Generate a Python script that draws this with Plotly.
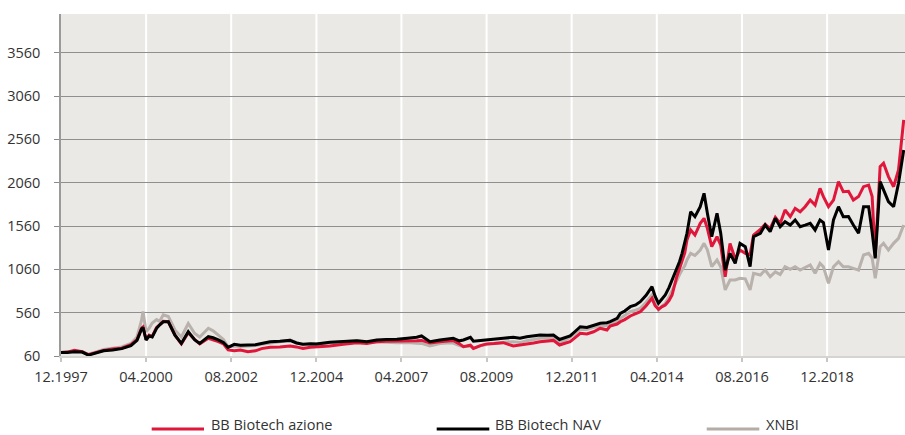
import plotly.graph_objects as go

# ---- data ----
dates = [
    "1997-12-01","1998-02-01","1998-04-15","1998-07-01","1998-09-01","1998-11-01",
    "1999-02-01","1999-05-01","1999-08-01","1999-11-01","2000-01-01","2000-02-15",
    "2000-03-01","2000-04-01","2000-05-01","2000-06-01","2000-07-15","2000-08-15",
    "2000-09-20","2000-11-10","2000-12-15","2001-01-15","2001-03-20","2001-05-28",
    "2001-08-01","2001-09-20","2001-12-15","2002-02-01","2002-03-25","2002-05-15",
    "2002-07-01","2002-09-01","2002-11-01","2003-01-15","2003-04-01","2003-06-01",
    "2003-08-25","2003-12-01","2004-03-12","2004-05-15","2004-07-20","2004-10-01",
    "2004-12-01","2005-04-15","2005-08-28","2006-01-10","2006-04-20","2006-07-28",
    "2006-11-01","2007-02-15","2007-06-01","2007-09-01","2007-10-20","2008-01-12",
    "2008-04-20","2008-07-01","2008-09-01","2008-11-01","2008-12-12","2009-02-20",
    "2009-03-22","2009-06-01","2009-08-01","2009-10-15","2010-01-15","2010-04-25",
    "2010-07-01","2010-09-07","2010-11-15","2011-01-18","2011-04-01","2011-06-01",
    "2011-08-01","2011-09-15","2011-11-15","2012-01-01","2012-02-25","2012-05-01",
    "2012-07-07","2012-09-12","2012-11-18","2012-12-20","2013-02-28","2013-04-01",
    "2013-05-15","2013-07-10","2013-09-01","2013-10-18","2013-12-15","2014-02-12",
    "2014-03-15","2014-04-18","2014-05-25","2014-06-25","2014-08-01","2014-09-01",
    "2014-10-18","2014-11-15","2014-12-10","2015-01-06","2015-01-28","2015-03-06",
    "2015-04-18","2015-06-10","2015-07-18","2015-08-21","2015-10-03","2015-11-25",
    "2016-01-01","2016-02-15","2016-04-03","2016-05-25","2016-07-12","2016-09-03",
    "2016-10-21","2016-11-25","2017-02-01","2017-03-21","2017-05-10","2017-07-01",
    "2017-08-18","2017-10-06","2017-11-27","2018-01-15","2018-03-06","2018-04-25",
    "2018-06-15","2018-08-03","2018-09-21","2018-10-25","2018-12-15","2019-02-03",
    "2019-03-25","2019-05-12","2019-07-03","2019-08-21","2019-10-12","2019-12-01",
    "2020-01-21","2020-02-25","2020-03-27","2020-05-15","2020-06-18","2020-08-06",
    "2020-09-27","2020-11-15","2021-01-06",
]

bb_azione = [
    100,105,125,110,75,95,
    125,140,150,190,250,380,
    395,250,300,285,390,420,
    460,455,380,300,200,330,
    250,200,265,250,225,200,
    130,120,130,110,120,145,
    160,165,175,165,148,160,
    165,175,195,214,205,225,
    230,230,235,237,240,210,
    225,235,240,200,167,185,
    148,180,200,205,214,175,
    185,198,210,225,230,240,
    187,200,225,270,322,315,
    340,380,360,406,429,456,
    480,522,550,571,640,726,
    640,600,630,648,700,764,
    975,1080,1168,1250,1399,1514,
    1456,1591,1649,1530,1322,1437,
    1340,975,1360,1180,1283,1245,
    1230,1456,1520,1580,1530,1660,
    1590,1745,1668,1764,1725,1783,
    1860,1802,1995,1899,1783,1860,
    2072,1956,1960,1860,1900,2014,
    2033,1900,1206,2245,2284,2130,
    2014,2207,2784,
]

bb_nav = [
    100,100,110,105,70,90,
    120,130,145,180,240,370,
    390,245,290,280,380,420,
    455,455,370,300,205,340,
    245,205,283,270,245,215,
    160,195,185,190,190,205,
    225,230,240,210,195,200,
    198,220,225,237,225,245,
    250,252,265,276,291,225,
    245,255,264,235,245,276,
    230,240,245,255,264,276,
    265,283,290,302,300,302,
    250,270,291,340,398,390,
    418,437,444,456,495,552,
    580,629,650,687,760,860,
    750,668,720,764,850,937,
    1052,1150,1245,1380,1476,1725,
    1668,1783,1937,1706,1437,1706,
    1476,1052,1245,1129,1360,1322,
    1091,1437,1476,1572,1495,1649,
    1552,1610,1572,1630,1552,1570,
    1591,1514,1630,1600,1283,1630,
    1783,1668,1670,1572,1476,1783,
    1783,1490,1187,2072,1970,1841,
    1783,2053,2437,
]

xnbi = [
    100,105,115,110,80,100,
    135,150,165,205,280,470,
    575,340,380,440,480,460,
    535,515,440,360,280,435,
    320,280,380,350,300,250,
    167,175,170,175,180,195,
    206,225,245,215,187,195,
    198,210,225,237,225,225,
    220,214,215,206,205,175,
    205,210,210,180,167,175,
    148,180,195,205,220,225,
    215,237,250,264,270,276,
    214,235,275,320,368,365,
    391,400,410,430,456,495,
    525,571,590,610,680,764,
    680,591,640,668,740,822,
    937,1000,1052,1100,1168,1245,
    1220,1283,1360,1283,1091,1168,
    1091,822,937,937,957,950,
    822,1014,995,1052,975,1030,
    1000,1091,1060,1090,1052,1080,
    1110,1014,1129,1090,899,1090,
    1148,1090,1090,1072,1052,1226,
    1245,1190,957,1322,1360,1283,
    1360,1418,1572,
]

series_names = ["BB Biotech azione", "BB Biotech NAV", "XNBI"]
series_colors = ["#e0173a", "#000000", "#b8b1ac"]

y_ticks = [60, 560, 1060, 1560, 2060, 2560, 3060, 3560]
x_tickvals = ["1997-12-01","2000-04-01","2002-08-01","2004-12-01","2007-04-01",
              "2009-08-01","2011-12-01","2014-04-01","2016-08-01","2018-12-01"]
x_ticktext = ["12.1997","04.2000","08.2002","12.2004","04.2007",
              "08.2009","12.2011","04.2014","08.2016","12.2018"]

FONT = "Open Sans"
TXT = "#333333"

fig = go.Figure()
# draw order: XNBI (bottom), azione, NAV (top)
for vals, name, col in [(xnbi, series_names[2], series_colors[2]),
                        (bb_azione, series_names[0], series_colors[0]),
                        (bb_nav, series_names[1], series_colors[1])]:
    fig.add_trace(go.Scatter(x=dates, y=vals, mode="lines", name=name,
                             line=dict(color=col, width=3), showlegend=False))

# vertical white grid lines above the horizontal ones
for tv in x_tickvals[1:]:
    fig.add_shape(type="line", xref="x", yref="paper", x0=tv, x1=tv, y0=0, y1=1,
                  line=dict(color="white", width=2), layer="between")

# manual legend
leg_items = [(151.7, 204, 209.5), (436.7, 489.3, 494.3), (706.7, 759.3, 765)]
W, H = 905, 435
l, r, t, b = 61, 0, 14, 79
pw, ph = W - l - r, H - t - b
def px(xp):
    return (xp - l) / pw
def py(yp):
    return (H - b - yp) / ph
for (x0, x1, xt), name, col in zip(leg_items, series_names, series_colors):
    lc = "#b5aca6" if name == "XNBI" else col
    fig.add_shape(type="line", xref="paper", yref="paper", x0=px(x0), x1=px(x1),
                  y0=py(429), y1=py(429), line=dict(color=lc, width=3))
    fig.add_annotation(xref="paper", yref="paper", x=px(xt), y=py(434.5), text=name,
                       showarrow=False, xanchor="left", yanchor="bottom", borderpad=0,
                       font=dict(family=FONT, size=14.5, color=TXT))

fig.update_layout(
    width=W, height=H,
    margin=dict(l=l, r=r, t=t, b=b, pad=0, autoexpand=False),
    paper_bgcolor="white",
    plot_bgcolor="#ebe9e6",
    font=dict(family=FONT, size=14.5, color=TXT),
    showlegend=False,
)
fig.update_xaxes(
    type="date", range=["1997-12-01", "2021-01-19"], automargin=False,
    tickmode="array", tickvals=x_tickvals, ticktext=x_ticktext,
    showgrid=False, zeroline=False,
    showline=True, linecolor="#d6d4d0", linewidth=2,
    ticks="outside", ticklen=4, tickcolor="#c8c6c2", tickwidth=1.5,
    ticklabelstandoff=3,
)
fig.update_yaxes(
    range=[60, 4007], tickmode="array", tickvals=y_ticks, automargin=False,
    showgrid=True, gridcolor="#8f8f8f", gridwidth=1.3, zeroline=False,
    showline=True, linecolor="#9a9a9a", linewidth=1.5,
    ticks="outside", ticklen=5, tickcolor="#8a8a8a", tickwidth=1.2,
    ticklabelstandoff=11,
)

fig.write_html(
    "out.html",
    config={"displayModeBar": False},
    post_script="document.body.style.margin='0px';document.body.style.padding='0px';"
                "document.body.style.overflow='hidden';",
)
